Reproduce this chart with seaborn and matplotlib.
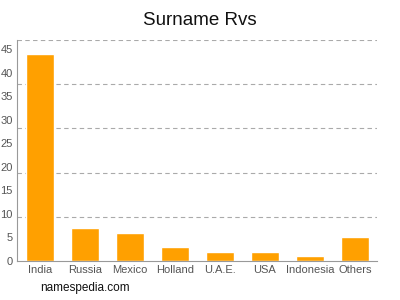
import seaborn as sns
import numpy as np
import matplotlib.pyplot as plt

countries = ['India', 'Russia', 'Mexico', 'Holland', 'U.A.E.', 'USA', 'Indonesia', 'Others']
counts = [44, 7, 6, 3, 2, 2, 1, 5]

sns.set_style("white")
plt.rcParams['font.family'] = ['Liberation Sans', 'DejaVu Sans']

fig = plt.figure(figsize=(4, 3), dpi=100)
ax = fig.add_axes([0.0425, 0.13, 0.9, 0.7367])

sns.barplot(x=countries, y=counts, color='#ffa000', saturation=1, width=0.62, ax=ax)

ax.set_ylim(0, 47)
ax.set_xlim(-0.51, 7.49)
ax.set_yticks(np.arange(0, 46, 5))
ax.set_yticks(np.arange(1, 6) * 9.4, minor=True)
ax.yaxis.grid(True, which='minor', linestyle=(0, (4, 3)), color='#aaaaaa', linewidth=0.8)
ax.yaxis.grid(False, which='major')
ax.set_axisbelow(True)
ax.tick_params(axis='y', which='minor', length=0)
ax.tick_params(axis='both', which='major', labelsize=8, labelcolor='#555555',
               color='#999999', length=2, width=0.8, pad=1)

for s in ['top', 'right']:
    ax.spines[s].set_visible(False)
for s in ['left', 'bottom']:
    ax.spines[s].set_color('#999999')
    ax.spines[s].set_linewidth(0.8)

ax.set_xlabel('')
ax.set_ylabel('')
fig.text(0.5, 0.96, 'Surname Rvs', ha='center', va='top', fontsize=13.5, color='#111111')
fig.text(0.1, 0.04, 'namespedia.com', ha='left', va='center', fontsize=8.5, color='#111111')

fig.savefig('out.png', dpi=100)
